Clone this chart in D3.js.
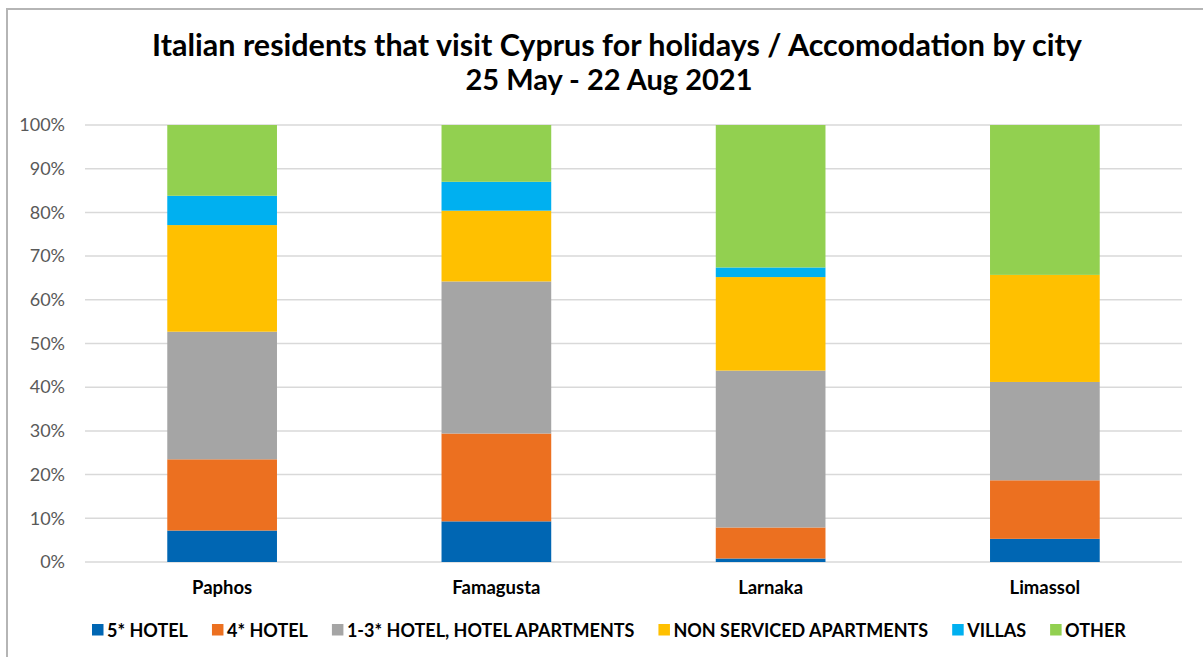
<!DOCTYPE html>
<html>
<head>
<meta charset="utf-8">
<script src="https://cdn.jsdelivr.net/npm/d3@7"></script>
<style>
  html, body { margin: 0; padding: 0; background: #fff; }
  svg { display: block; }
</style>
</head>
<body>
<svg id="chart" width="1203" height="657"></svg>
<script>
// Accommodation share (%) per city
const cities = ["Paphos", "Famagusta", "Larnaka", "Limassol"];
const seriesNames = ["5* HOTEL", "4* HOTEL", "1-3* HOTEL, HOTEL APARTMENTS", "NON SERVICED APARTMENTS", "VILLAS", "OTHER"];
const hotel5     = [7.2, 9.3, 0.8, 5.3];
const hotel4     = [16.3, 20.1, 7.1, 13.4];
const hotel13    = [29.2, 34.8, 35.9, 22.5];
const nonServiced = [24.4, 16.2, 21.4, 24.5];
const villas     = [6.7, 6.6, 2.2, 0.0];
const other      = [16.2, 13.0, 32.6, 34.3];
const yTicks = [0, 10, 20, 30, 40, 50, 60, 70, 80, 90, 100];
const colors = ["#0066B3", "#EC7020", "#A5A5A5", "#FFC000", "#00B0F0", "#92D050"];

const seriesValues = [hotel5, hotel4, hotel13, nonServiced, villas, other];
const rows = cities.map((c, i) => {
  const r = { city: c };
  seriesNames.forEach((s, k) => { r[s] = seriesValues[k][i]; });
  return r;
});

const svg = d3.select("#chart");
const W = 1203, H = 657;
const plot = { left: 85, right: 1182, top: 125, bottom: 562 };
const font = "Lato, 'Open Sans', sans-serif";

// outer chart frame
svg.append("rect")
  .attr("x", 7).attr("y", 9)
  .attr("width", W).attr("height", H)
  .attr("fill", "#fff")
  .attr("stroke", "#b5b5b5").attr("stroke-width", 2);

// title
const title = svg.append("text")
  .attr("text-anchor", "middle")
  .attr("font-family", font).attr("font-weight", "bold")
  .attr("fill", "#000");
title.append("tspan").attr("x", 617).attr("y", 56).attr("font-size", 30.5)
  .text("Italian residents that visit Cyprus for holidays / Accomodation by city");
title.append("tspan").attr("x", 609).attr("y", 90).attr("font-size", 29)
  .text("25 May - 22 Aug 2021");

const x = d3.scaleBand().domain(cities)
  .range([plot.left, plot.right]).paddingInner(0.6).paddingOuter(0.3);
const y = d3.scaleLinear().domain([0, 100]).range([plot.bottom, plot.top]);

// gridlines
svg.append("g")
  .selectAll("line").data(yTicks).join("line")
  .attr("x1", plot.left).attr("x2", plot.right)
  .attr("y1", d => y(d)).attr("y2", d => y(d))
  .attr("stroke", "#d9d9d9").attr("stroke-width", 1.5);

// y axis labels
const yAxis = d3.axisLeft(y).tickValues(yTicks).tickFormat(d => d + "%").tickSize(0).tickPadding(0);
const ya = svg.append("g").attr("transform", `translate(${plot.left - 20},0)`).call(yAxis);
ya.select(".domain").remove();
ya.selectAll("text")
  .attr("font-family", font).attr("font-size", 18).attr("fill", "#595959");

// stacked bars
const stack = d3.stack().keys(seriesNames)(rows);
svg.append("g").selectAll("g").data(stack).join("g")
  .attr("fill", (d, i) => colors[i])
  .selectAll("rect").data(d => d).join("rect")
  .attr("x", d => x(d.data.city))
  .attr("width", x.bandwidth())
  .attr("y", d => y(d[1]))
  .attr("height", d => y(d[0]) - y(d[1]));

// category axis
const xAxis = d3.axisBottom(x).tickSize(0).tickPadding(0);
const xa = svg.append("g").attr("transform", `translate(0,${plot.bottom + 32})`).call(xAxis);
xa.select(".domain").remove();
xa.selectAll("text")
  .attr("dy", 0)
  .attr("font-family", font).attr("font-weight", "bold")
  .attr("font-size", 18.5).attr("fill", "#000");

// legend
const legend = svg.append("g").attr("transform", "translate(92,630)");
let lx = 0;
seriesNames.forEach((name, i) => {
  const g = legend.append("g").attr("transform", `translate(${lx},0)`);
  g.append("rect").attr("x", 0).attr("y", -6).attr("width", 11.5).attr("height", 11.5).attr("fill", colors[i]);
  const t = g.append("text").attr("x", 15).attr("y", 6.5)
    .attr("font-family", font).attr("font-weight", "bold")
    .attr("font-size", 18).attr("fill", "#000").text(name);
  lx += 15 + t.node().getComputedTextLength() + 24;
});
</script>
</body>
</html>
